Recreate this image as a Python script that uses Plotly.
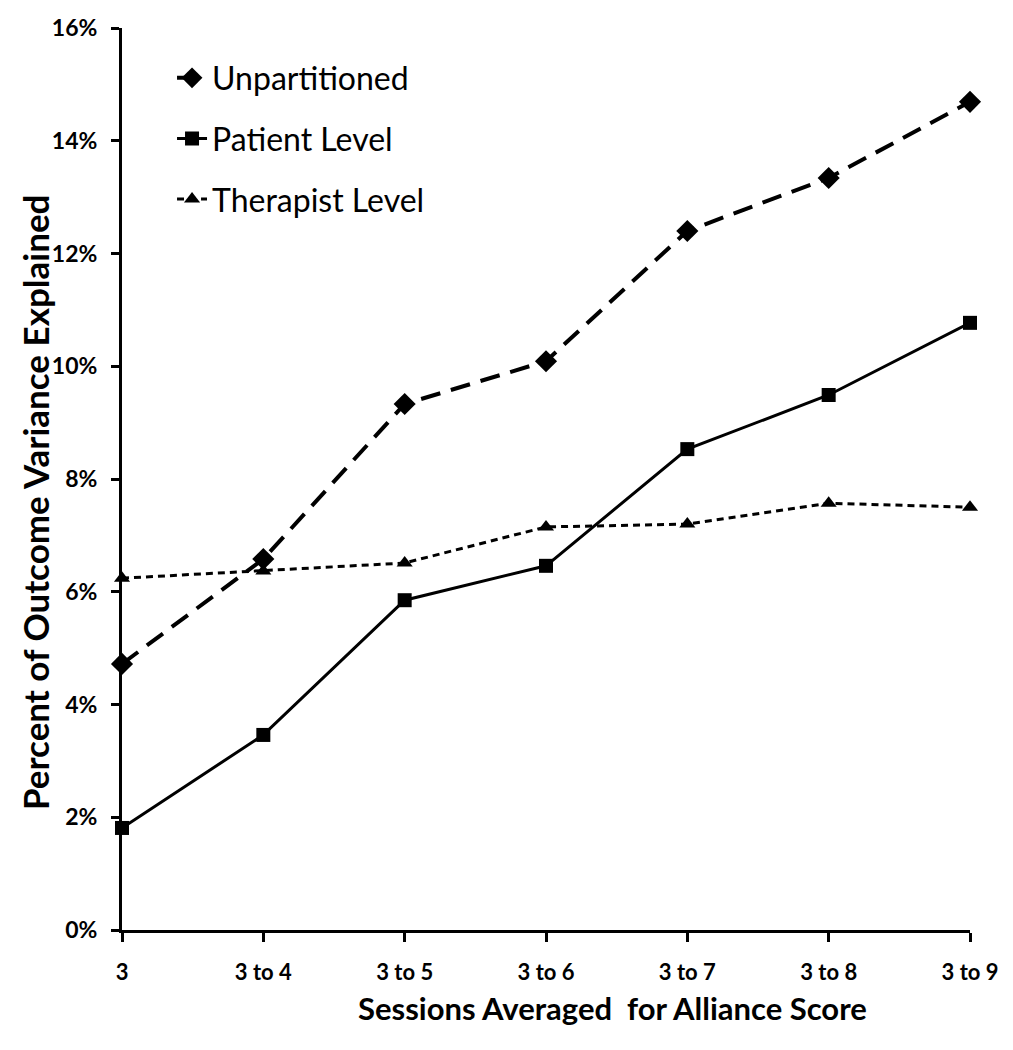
import plotly.graph_objects as go

categories = ["3", "3 to 4", "3 to 5", "3 to 6", "3 to 7", "3 to 8", "3 to 9"]
unpartitioned = [4.72, 6.58, 9.33, 10.09, 12.40, 13.34, 14.69]
patient_level = [1.81, 3.46, 5.85, 6.46, 8.53, 9.49, 10.77]
therapist_level = [6.24, 6.37, 6.51, 7.15, 7.20, 7.57, 7.50]
y_ticks = [0, 2, 4, 6, 8, 10, 12, 14, 16]
y_tick_labels = [f"{v}%" for v in y_ticks]

FONT = "Lato, 'Open Sans', sans-serif"

fig = go.Figure()
fig.add_trace(go.Scatter(
    x=categories, y=unpartitioned, name="Unpartitioned", mode="lines+markers",
    line=dict(color="black", width=4, dash="20px,11px"),
    marker=dict(symbol="diamond", size=17, color="black"),
    legendgroup="a", cliponaxis=False))
fig.add_trace(go.Scatter(
    x=categories, y=patient_level, name="Patient Level", mode="lines+markers",
    line=dict(color="black", width=3),
    marker=dict(symbol="square", size=14, color="black"),
    legendgroup="b", cliponaxis=False))
fig.add_trace(go.Scatter(
    x=categories, y=therapist_level, name="Therapist Level", mode="lines+markers",
    line=dict(color="black", width=3, dash="7px,5px"),
    marker=dict(symbol="triangle-up", size=14, color="black"),
    legendgroup="c", cliponaxis=False))

fig.update_layout(
    width=1013, height=1050,
    margin=dict(l=114, r=51, t=20, b=128),
    paper_bgcolor="white", plot_bgcolor="white",
    font=dict(family=FONT, color="black"),
    showlegend=True,
    legend=dict(x=0.059, y=0.975, xanchor="left", yanchor="top",
                font=dict(size=32, family=FONT), tracegroupgap=16,
                bgcolor="rgba(0,0,0,0)"),
    xaxis=dict(
        type="category", range=[0, 6], automargin=False,
        showline=True, linecolor="black", linewidth=3,
        ticks="outside", ticklen=9, tickwidth=3, tickcolor="black",
        showgrid=False, zeroline=False, ticklabelstandoff=12,
        tickfont=dict(size=22, family=FONT, weight="bold"),
    ),
    yaxis=dict(
        range=[0, 16], tickvals=y_ticks, ticktext=y_tick_labels, automargin=False,
        showline=True, linecolor="black", linewidth=3,
        ticks="outside", ticklen=8, tickwidth=3, tickcolor="black",
        showgrid=False, zeroline=False, ticklabelstandoff=9,
        tickfont=dict(size=23, family=FONT, weight="bold"),
    ),
    annotations=[
        dict(text="<b>Sessions Averaged  for Alliance Score</b>",
             xref="paper", yref="paper", x=0.579, y=-0.087,
             xanchor="center", yanchor="middle", showarrow=False,
             font=dict(size=31, family=FONT, color="black")),
        dict(text="<b>Percent of Outcome Variance Explained</b>",
             xref="paper", yref="paper", x=-0.1026, y=0.4745, textangle=-90,
             xanchor="center", yanchor="middle", showarrow=False,
             font=dict(size=35, family=FONT, color="black")),
    ],
)

fig.write_html("out.html")
